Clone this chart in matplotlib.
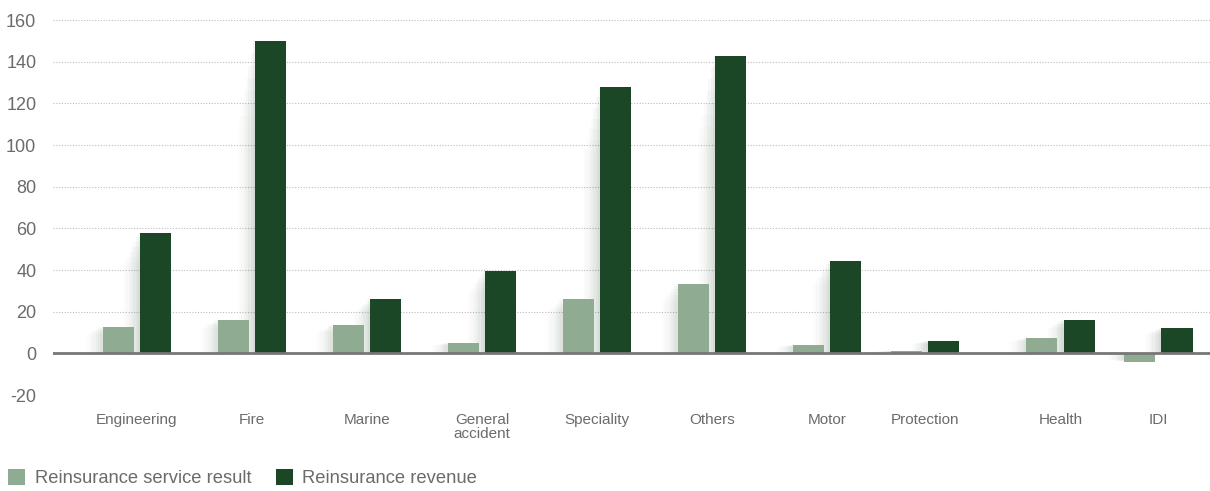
import matplotlib.pyplot as plt
import numpy as np

categories = ["Engineering", "Fire", "Marine", "General\naccident", "Speciality",
              "Others", "Motor", "Protection", "Health", "IDI"]
service_result = [12.5, 16, 13.5, 5, 26, 33.5, 4, 1.2, 7.5, -4]
revenue = [58, 150, 26, 39.5, 128, 143, 44.5, 6, 16, 12]

# category centres as they sit in the original layout (uneven spacing)
xpos = np.array([0, 1, 2, 3, 4, 5, 6, 6.85, 8.03, 8.88])

light = "#8fac92"
dark = "#1c4726"
txt = "#6b6b6b"

plt.rcParams["font.family"] = ["Liberation Sans", "DejaVu Sans"]

fig = plt.figure(figsize=(12.10, 4.91), dpi=100)
ax = fig.add_axes([0.0438, 0.1955, 0.9562, 0.7635])

w = 0.27
off = 0.163

# soft shadow on the left of each bar, fading upwards
sr = np.array(service_result)
rv = np.array(revenue)
for k in range(8):
    shift = 0.02 * (k + 1)
    a = 0.045 * (1 - k / 8)
    f = 1 - 0.04 * k
    ax.bar(xpos - off - shift, sr * f, w, color="#5f7f63", alpha=a, lw=0, zorder=2)
    ax.bar(xpos + off - shift, rv * f, w, color="#2f4f36", alpha=a, lw=0, zorder=2)

ax.bar(xpos - off, service_result, w, color=light, lw=0, zorder=3, label="Reinsurance service result")
ax.bar(xpos + off, revenue, w, color=dark, lw=0, zorder=3, label="Reinsurance revenue")

ax.axhline(0, color="#777777", lw=2, zorder=4)

ax.set_ylim(-20, 160)
ax.set_xlim(-0.73, 9.33)
ax.set_yticks(np.arange(-20, 161, 20))
ax.set_yticklabels([str(v) for v in range(-20, 161, 20)], fontsize=13, color=txt)
ax.yaxis.grid(True, ls=(0, (1, 1.5)), color="#bdbdbd", lw=0.8)
ax.set_axisbelow(True)
ax.tick_params(axis="y", length=0, pad=12)
ax.tick_params(axis="x", length=0, pad=13)
ax.set_xticks(xpos)
ax.set_xticklabels(categories, fontsize=11, color=txt, linespacing=0.95, va="top")
for s in ax.spines.values():
    s.set_visible(False)

fig.legend(loc="lower left", bbox_to_anchor=(-0.004, -0.018), ncol=2, frameon=False,
           fontsize=13.2, labelcolor=txt, handlelength=0.95, handleheight=0.95,
           handletextpad=0.5, columnspacing=1.35, borderaxespad=0.3)

fig.savefig("out.png", dpi=100)
